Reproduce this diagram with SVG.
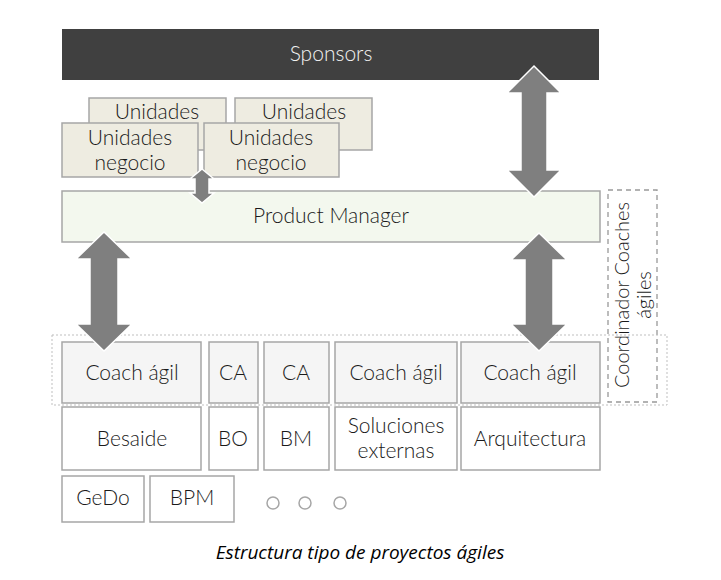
<svg xmlns="http://www.w3.org/2000/svg" width="721" height="580" viewBox="0 0 721 580">
<style>
.t{font-family:Lato,"Open Sans","Liberation Sans",sans-serif;font-size:21px;font-weight:300;fill:#1a1a1a;text-anchor:middle}
.w{fill:#f2f2f2}
.bx{stroke:#a6a6a6;stroke-width:1.5}
.g1{fill:#f5f5f5}
.g2{fill:#ffffff}
.un{fill:#eeece1}
.ar{fill:#7f7f7f;stroke:#ffffff;stroke-width:1.5}
.cap{font-family:"Open Sans","Liberation Sans",sans-serif;font-style:italic;font-size:19px;fill:#000;text-anchor:middle}
</style>
<rect width="721" height="580" fill="#ffffff"/>
<g id="sponsors"><rect x="62" y="29" width="537" height="51" fill="#404040"/><text class="t w" x="331" y="61">Sponsors</text></g>
<g id="unidades-back-1"><rect class="bx un" x="89" y="98" width="137" height="52"/><text class="t" x="157" y="119">Unidades</text></g>
<g id="unidades-back-2"><rect class="bx un" x="235" y="98" width="137" height="52"/><text class="t" x="304" y="119">Unidades</text></g>
<g id="unidades-front-1"><rect class="bx un" x="62" y="123" width="136" height="54"/><text class="t" x="130" y="145">Unidades</text><text class="t" x="130" y="170">negocio</text></g>
<g id="unidades-front-2"><rect class="bx un" x="204" y="123" width="135" height="54"/><text class="t" x="271" y="145">Unidades</text><text class="t" x="271" y="170">negocio</text></g>
<g id="product-manager"><rect class="bx" x="62" y="191" width="538" height="51" fill="#f3f8ee"/><text class="t" x="331" y="223">Product Manager</text></g>
<g id="coordinador"><rect x="608" y="190" width="49" height="212" fill="#ffffff" stroke="#999999" stroke-width="1.3" stroke-dasharray="5,4"/>
<text class="t" style="font-size:20px" transform="translate(629,295) rotate(-90)">Coordinador Coaches</text>
<text class="t" style="font-size:20px" transform="translate(651,295) rotate(-90)">ágiles</text></g>
<g id="coach-group"><rect x="52" y="335" width="615" height="70" fill="none" stroke="#bfbfbf" stroke-width="1" stroke-dasharray="2,2"/></g>
<g id="coach-1"><rect class="bx g1" x="62" y="342" width="139" height="61"/><text class="t" x="132" y="380">Coach ágil</text></g>
<g id="ca-1"><rect class="bx g1" x="209" y="342" width="49" height="61"/><text class="t" x="233" y="380">CA</text></g>
<g id="ca-2"><rect class="bx g1" x="264" y="342" width="65" height="61"/><text class="t" x="296" y="380">CA</text></g>
<g id="coach-2"><rect class="bx g1" x="335" y="342" width="122" height="61"/><text class="t" x="396" y="380">Coach ágil</text></g>
<g id="coach-3"><rect class="bx g1" x="461" y="342" width="139" height="61"/><text class="t" x="530" y="380">Coach ágil</text></g>
<g id="besaide"><rect class="bx g2" x="62" y="407" width="139" height="63"/><text class="t" x="132" y="446">Besaide</text></g>
<g id="bo"><rect class="bx g2" x="209" y="407" width="49" height="63"/><text class="t" x="233" y="446">BO</text></g>
<g id="bm"><rect class="bx g2" x="264" y="407" width="65" height="63"/><text class="t" x="296" y="446">BM</text></g>
<g id="soluciones"><rect class="bx g2" x="335" y="407" width="122" height="63"/><text class="t" x="396" y="433">Soluciones</text><text class="t" x="396" y="458">externas</text></g>
<g id="arquitectura"><rect class="bx g2" x="461" y="407" width="139" height="63"/><text class="t" x="530" y="446">Arquitectura</text></g>
<g id="gedo"><rect class="bx g2" x="62" y="476" width="82" height="46"/><text class="t" x="103" y="505">GeDo</text></g>
<g id="bpm"><rect class="bx g2" x="150" y="476" width="84" height="46"/><text class="t" x="192" y="505">BPM</text></g>
<g id="more"><circle cx="273" cy="503" r="6" fill="none" stroke="#a6a6a6" stroke-width="1.5"/><circle cx="305" cy="503" r="6" fill="none" stroke="#a6a6a6" stroke-width="1.5"/><circle cx="340" cy="503" r="6" fill="none" stroke="#a6a6a6" stroke-width="1.5"/></g>
<g id="connectors">
<polygon class="ar" points="534,66 561,93 547,93 547,170 561,170 534,197 507,170 521,170 521,93 507,93"/>
<polygon class="ar" points="104,232 132,259 118,259 118,324 132,324 104,351 76,324 90,324 90,259 76,259"/>
<polygon class="ar" points="539,233 567,260 553,260 553,324 567,324 539,351 511,324 525,324 525,260 511,260"/>
<polygon class="ar" points="202,169 214,179 209,179 209,193 214,193 202,203 190,193 195,193 195,179 190,179"/>
</g>
<text class="cap" x="360" y="559">Estructura tipo de proyectos ágiles</text>
</svg>
